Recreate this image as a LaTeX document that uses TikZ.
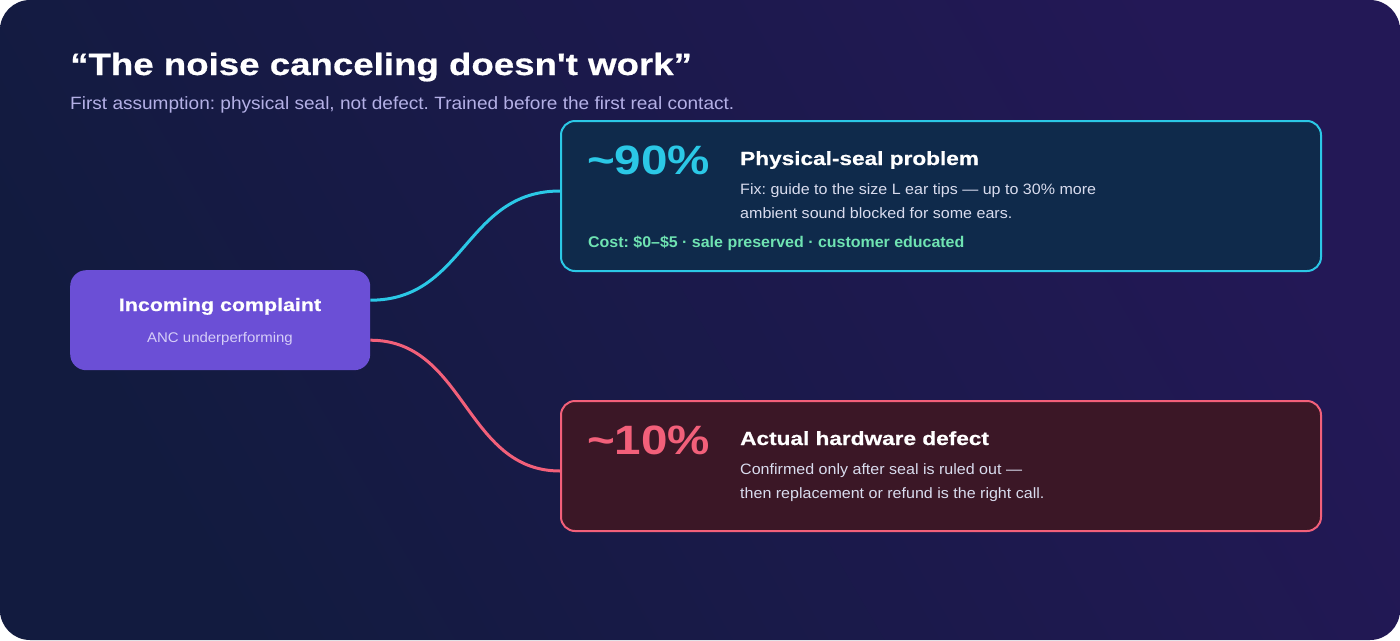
\documentclass[tikz,border=0pt]{standalone}
\usepackage{fontspec}
\setmainfont{Liberation Sans}[FakeStretch=1.07]
\newfontfamily\hb{Liberation Sans Bold}[FakeStretch=1.19,FakeBold=0.6,Ligatures=TeXOff]
\newfontfamily\pb{Liberation Sans Bold}[FakeStretch=1.16]
\newfontfamily\cb{Liberation Sans Bold}[FakeStretch=1.03]
\usetikzlibrary{calc}
\definecolor{bgA}{HTML}{121B3F}
\definecolor{bgB}{HTML}{231856}
\definecolor{subc}{HTML}{B4B0E6}
\definecolor{cyanc}{HTML}{2BC8E6}
\definecolor{cyanfill}{HTML}{0F2A4B}
\definecolor{redc}{HTML}{F2607A}
\definecolor{redfill}{HTML}{3B1726}
\definecolor{purp}{HTML}{6B4FD6}
\definecolor{purptext}{HTML}{D6CEF8}
\definecolor{bodyc}{HTML}{D9DCEE}
\definecolor{greenc}{HTML}{6FE3B2}
\tikzset{
  card/.style={draw, line width=2pt, rounded corners=14pt, anchor=north west, inner sep=0pt},
  big/.style={anchor=base west, inner sep=0pt, font=\fontsize{41}{44}\pb},
  head/.style={anchor=base west, inner sep=0pt, text=white, font=\fontsize{19}{22}\hb},
  body/.style={anchor=base west, inner sep=0pt, text=bodyc, font=\fontsize{15}{18}\selectfont},
  link/.style={line width=3pt},
}
\begin{document}
\frenchspacing
\begin{tikzpicture}[x=1pt,y=-1pt]
\useasboundingbox (0,0) rectangle (1400,640);
\fill[white] (0,0) rectangle (1400,640);
\shade[rounded corners=30pt, left color=bgA, right color=bgB, shading angle=120] (0,0) rectangle (1400,640);
% title
\node[anchor=base west, inner sep=0pt, text=white, font=\fontsize{30.8}{36}\hb] (title) at (70,75) {“The noise canceling doesn't work”};
\node[anchor=base west, inner sep=0pt, text=subc, font=\fontsize{17.8}{20}\selectfont] (sub) at (70,109) {First assumption: physical seal, not defect. Trained before the first real contact.};
% cards
\node[card, draw=cyanc, fill=cyanfill, minimum width=760pt, minimum height=150pt] (top) at (560,120) {};
\node[card, draw=redc, fill=redfill, minimum width=760pt, minimum height=130pt] (bot) at (560,400) {};
\node[fill=purp, rounded corners=16pt, minimum width=300pt, minimum height=100pt, anchor=north west, inner sep=0pt] (in) at (70,270) {};
% left node text
\node[anchor=base, inner sep=0pt, text=white, font=\fontsize{18}{22}\hb] (inh) at (220,311) {Incoming complaint};
\node[anchor=base, inner sep=0pt, text=purptext, font=\fontsize{14}{17}\selectfont] (inb) at (220,342) {ANC underperforming};
% top card text
\node[big, text=cyanc] (p90) at (587,174) {\char"007E 90\%};
\node[head] (h1) at (740,165) {Physical-seal problem};
\node[body] (b1a) at (740,194) {Fix: guide to the size L ear tips — up to 30\% more};
\node[body] (b1b) at (740,218) {ambient sound blocked for some ears.};
\node[anchor=base west, inner sep=0pt, text=greenc, font=\fontsize{15.5}{17}\cb] (cost) at (588,247) {Cost: \$0–\$5 · sale preserved · customer educated};
% bottom card text
\node[big, text=redc] (p10) at (587,454) {\char"007E 10\%};
\node[head] (h2) at (740,445) {Actual hardware defect};
\node[body] (b2a) at (740,474) {Confirmed only after seal is ruled out —};
\node[body] (b2b) at (740,498) {then replacement or refund is the right call.};
% connectors
\draw[link, draw=cyanc] ([yshift=20pt]in.east) .. controls ($([yshift=20pt]in.east)+(95,0)$) and ($([yshift=5pt]top.west)+(-95,0)$) .. ([yshift=5pt]top.west);
\draw[link, draw=redc] ([yshift=-20pt]in.east) .. controls ($([yshift=-20pt]in.east)+(95,0)$) and ($([yshift=-5pt]bot.west)+(-95,0)$) .. ([yshift=-5pt]bot.west);
\end{tikzpicture}
\end{document}
